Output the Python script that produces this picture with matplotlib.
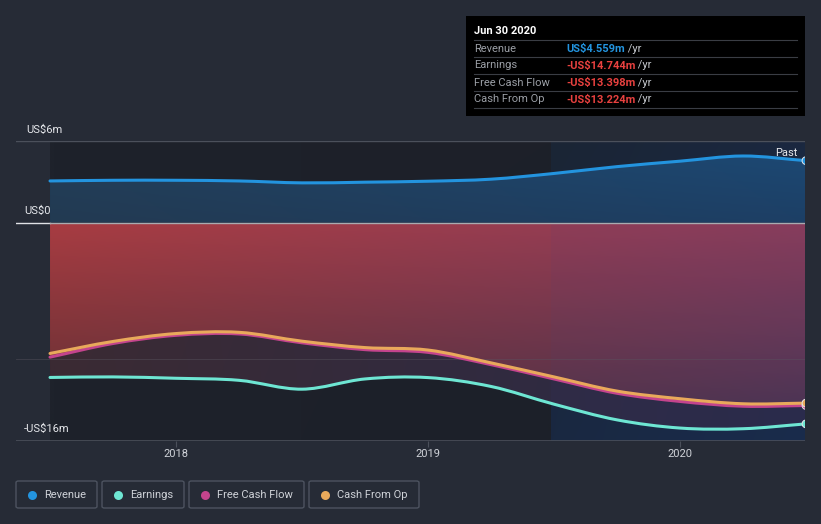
import matplotlib.pyplot as plt
import numpy as np
from matplotlib.path import Path
from matplotlib.patches import PathPatch, Rectangle, FancyBboxPatch
from matplotlib.colors import to_rgb
from matplotlib.text import Annotation

plt.rcParams['font.family'] = ['Roboto', 'DejaVu Sans']

# --- data (US$ m, quarterly, Jun 2017 .. Jun 2020) ---
dates = [2017.5, 2017.75, 2018.0, 2018.25, 2018.5, 2018.75, 2019.0,
         2019.25, 2019.5, 2019.75, 2020.0, 2020.25, 2020.5]
revenue = [3.07, 3.12, 3.12, 3.07, 2.93, 2.98, 3.05, 3.2, 3.62, 4.12, 4.52, 4.9, 4.559]
earnings = [-11.34, -11.3, -11.4, -11.55, -12.2, -11.45, -11.35, -12.0, -13.3,
            -14.45, -15.05, -15.1, -14.744]
fcf = [-9.85, -8.85, -8.25, -8.15, -8.8, -9.3, -9.5, -10.4, -11.45,
       -12.5, -13.1, -13.45, -13.398]
cfo = [-9.58, -8.7, -8.12, -8.03, -8.68, -9.15, -9.33, -10.27, -11.3,
       -12.34, -12.9, -13.27, -13.224]
years = [2018, 2019, 2020]
past_start = 2019.49

c_rev = '#2394df'
c_earn = '#6ee6d3'
c_fcf = '#c4448d'
c_cfo = '#e9a95b'
bg = '#262b36'


def smooth_path(x, y, base=None):
    # cubic bezier through the points (drawing only)
    x = np.asarray(x, float)
    y = np.asarray(y, float)
    n = len(x)
    m = np.zeros(n)
    m[1:-1] = (y[2:] - y[:-2]) / (x[2:] - x[:-2])
    m[0] = (y[1] - y[0]) / (x[1] - x[0])
    m[-1] = (y[-1] - y[-2]) / (x[-1] - x[-2])
    verts = [(x[0], y[0])]
    codes = [Path.MOVETO]
    for i in range(n - 1):
        h = x[i + 1] - x[i]
        verts += [(x[i] + h / 3, y[i] + m[i] * h / 3),
                  (x[i + 1] - h / 3, y[i + 1] - m[i + 1] * h / 3),
                  (x[i + 1], y[i + 1])]
        codes += [Path.CURVE4] * 3
    if base is not None:
        verts += [(x[-1], base), (x[0], base), (x[0], y[0])]
        codes += [Path.LINETO, Path.LINETO, Path.CLOSEPOLY]
    return Path(verts, codes)


def gradient(ax, extent, tl, tr, bl, br, clip=None, z=1):
    # bilinear colour gradient, optionally clipped to a path
    nx, ny = 60, 60
    u = np.linspace(0, 1, nx)[None, :, None]
    v = np.linspace(0, 1, ny)[:, None, None]
    tl, tr, bl, br = [np.array(to_rgb(c))[None, None, :] for c in (tl, tr, bl, br)]
    img = (1 - v) * ((1 - u) * bl + u * br) + v * ((1 - u) * tl + u * tr)
    im = ax.imshow(img, extent=extent, origin='lower', aspect='auto',
                   interpolation='bilinear', zorder=z)
    if clip is not None:
        p = PathPatch(clip, transform=ax.transData, fc='none', ec='none')
        ax.add_patch(p)
        im.set_clip_path(p)
    return im


fig = plt.figure(figsize=(8.21, 5.24), dpi=100, facecolor=bg)
ax = fig.add_axes([16 / 821, 83 / 524, 789 / 821, 300 / 524])
ax.set_facecolor(bg)

x0, x1 = dates[0], dates[-1]
# background bands
gradient(ax, [x0, past_start, -16, 6], '#1e222b', '#1d2029', '#1e222b', '#1c2029', z=0.5)
gradient(ax, [past_start, x1, -16, 6], '#1b2535', '#1b2840', '#18263c', '#172b48', z=0.5)
# revenue area
gradient(ax, [x0, x1, 0, 6], '#22405b', '#1c4a76', '#233a52', '#1d3f65',
         clip=smooth_path(dates, revenue, 0), z=1)
# earnings area
gradient(ax, [x0, x1, -16, 0], '#3c2a34', '#2b2b48', '#3a2a33', '#2a2a48',
         clip=smooth_path(dates, earnings, 0), z=1.1)
# cash flow area
gradient(ax, [x0, x1, -14, 0], '#a73c42', '#8c3d5a', '#633034', '#4c3350',
         clip=smooth_path(dates, fcf, 0), z=1.2)
# faint tint after the past boundary
ax.axvspan(past_start, x1, ymin=0, ymax=16 / 22, color='#3a4a9a', alpha=0.06, lw=0, zorder=1.3)

ax.set_xlim(2017.365, 2020.496)
ax.set_ylim(-16, 6)

# grid lines
ax.axhline(6, color='#4b505b', lw=1, zorder=2)
ax.axhline(-10, color='#5a5560', lw=0.6, alpha=0.5, zorder=2)
ax.plot([2017.365, x0], [0, 0], color='#e0e2e6', lw=1, zorder=2)
ax.plot([x0, 2020.496], [0, 0], color='#a9abb0', lw=1, zorder=2)
ax.axhline(-16, color='#4b505b', lw=1.2, zorder=2)

# lines
for vals, col in [(revenue, c_rev), (earnings, c_earn), (fcf, c_fcf), (cfo, c_cfo)]:
    ax.add_patch(PathPatch(smooth_path(dates, vals), fc='none', ec=col, lw=2.2,
                           capstyle='round', zorder=3))
ax.scatter([x1] * 4, [revenue[-1], earnings[-1], fcf[-1], cfo[-1]],
           c=[c_rev, c_earn, c_fcf, c_cfo], s=32, edgecolors='#e6e6ea', linewidths=0.7, zorder=4)

for s in ax.spines.values():
    s.set_visible(False)
ax.set_yticks([])
ax.set_xticks(years)
ax.set_xticklabels([str(y) for y in years])
ax.tick_params(axis='x', colors='#4b505b', labelcolor='#d0d3d9', labelsize=8, length=4, pad=2)

# y labels
fig.text(26 / 821, 1 - 130 / 524, 'US$6m', color='#e6e8ec', fontsize=8, va='center')
fig.text(24 / 821, 1 - 211 / 524, 'US$0', color='#e6e8ec', fontsize=8, va='center')
fig.text(24 / 821, 1 - 429 / 524, '-US$16m', color='#e6e8ec', fontsize=8, va='center')
fig.text(797 / 821, 1 - 153 / 524, 'Past', color='#e6e8ec', fontsize=8, va='center', ha='right')

# tooltip box
fig.patches.append(Rectangle((466 / 821, 1 - 116 / 524), 339 / 821, 100 / 524,
                             transform=fig.transFigure, fc='black', ec='none'))
fig.text(474 / 821, 1 - 31 / 524, 'Jun 30 2020', color='white', fontsize=8,
         fontweight='bold', va='center')
rows = [('Revenue', 'US$4.559m', c_rev), ('Earnings', '-US$14.744m', '#e8413f'),
        ('Free Cash Flow', '-US$13.398m', '#e8413f'), ('Cash From Op', '-US$13.224m', '#e8413f')]
for i, (lab, val, col) in enumerate(rows):
    yl = 1 - (40 + 17 * i) / 524
    fig.add_artist(plt.Line2D([474 / 821, 797 / 821], [yl, yl], color='#3a3d44', lw=0.8))
    yt = 1 - (48.5 + 17 * i) / 524
    fig.text(474 / 821, yt, lab, color='#9b9fa6', fontsize=8, va='center')
    t = fig.text(566 / 821, yt, val, color=col, fontsize=8, fontweight='bold', va='center')
    a = Annotation(' /yr', xy=(1, 0.5), xycoords=t, color='#c5c8cd', fontsize=8, va='center')
    a.set_zorder(5)
    fig.add_artist(a)
yl = 1 - 108 / 524
fig.add_artist(plt.Line2D([474 / 821, 797 / 821], [yl, yl], color='#3a3d44', lw=0.8))

# legend boxes
items = [('Revenue', c_rev, 16, 97), ('Earnings', c_earn, 102, 184),
         ('Free Cash Flow', c_fcf, 189, 304), ('Cash From Op', c_cfo, 309, 419)]
for lab, col, xa, xb in items:
    fig.patches.append(FancyBboxPatch((xa / 821, 1 - 508 / 524), (xb - xa) / 821, 27 / 524,
                                      boxstyle='round,pad=0,rounding_size=0.003',
                                      transform=fig.transFigure, fc='none', ec='#4d5360', lw=1))
    fig.add_artist(plt.Line2D([(xa + 16) / 821], [1 - 494.5 / 524], marker='o', ms=6.5,
                              mfc=col, mec='none', ls='none'))
    fig.text((xa + 28) / 821, 1 - 494.5 / 524, lab, color='#cfd2d8', fontsize=8, va='center')

fig.savefig('out.png', dpi=100, facecolor=bg)
